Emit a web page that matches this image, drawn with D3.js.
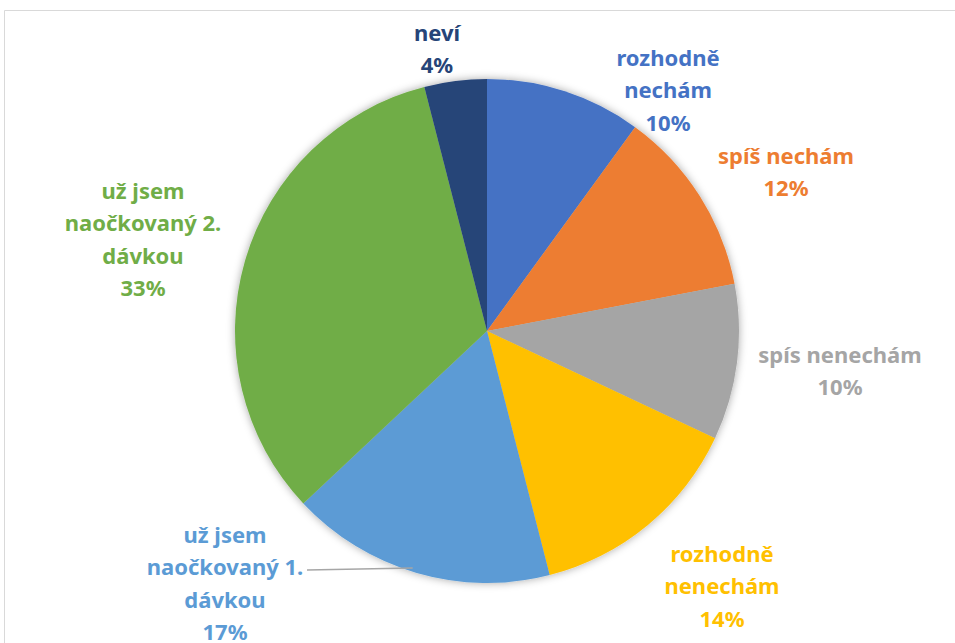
<!DOCTYPE html>
<html>
<head>
<meta charset="utf-8">
<script src="https://cdn.jsdelivr.net/npm/d3@7"></script>
<style>
  html, body { margin: 0; padding: 0; background: #fff; }
  svg { display: block; }
</style>
</head>
<body>
<div id="chart"></div>
<script>
const categories = ['rozhodně nechám', 'spíš nechám', 'spís nenechám', 'rozhodně nenechám', 'už jsem naočkovaný 1. dávkou', 'už jsem naočkovaný 2. dávkou', 'neví'];
const values = [10, 12, 10, 14, 17, 33, 4]; // percent
const colors = ['#4472C4', '#ED7D31', '#A5A5A5', '#FFC000', '#5B9BD5', '#70AD47', '#264478'];
// label lines, as wrapped in the picture
const labelLines = [
  ['rozhodně', 'nechám'],
  ['spíš nechám'],
  ['spís nenechám'],
  ['rozhodně', 'nenechám'],
  ['už jsem', 'naočkovaný 1.', 'dávkou'],
  ['už jsem', 'naočkovaný 2.', 'dávkou'],
  ['neví']
];

const width = 955, height = 643;
const cx = 487, cy = 331, radius = 252;
const lineH = 32.3;
// label anchor (centre x, first line y) for each slice
const labelPos = [[668, 57], [786, 155], [840, 354], [722, 553], [225, 534], [143, 190], [437, 32]];

const svg = d3.select('#chart').append('svg')
  .attr('width', width).attr('height', height);

// frame
svg.append('path')
  .attr('d', `M4.5,${height} V10.5 H${width}`)
  .attr('fill', 'none').attr('stroke', '#d9d9d9').attr('stroke-width', 1);

const defs = svg.append('defs');
const f = defs.append('filter').attr('id', 'shadow')
  .attr('x', '-10%').attr('y', '-10%').attr('width', '120%').attr('height', '120%');
f.append('feDropShadow').attr('dx', 0).attr('dy', 0).attr('stdDeviation', 4)
  .attr('flood-color', '#000').attr('flood-opacity', 0.35);

const pie = d3.pie().sort(null).value(d => d);
const arcs = pie(values);
const arc = d3.arc().innerRadius(0).outerRadius(radius);

const g = svg.append('g').attr('transform', `translate(${cx},${cy})`);
g.append('g').attr('filter', 'url(#shadow)')
  .selectAll('path').data(arcs).enter().append('path')
  .attr('d', arc)
  .attr('fill', (d, i) => colors[i]);

// leader line for the 1st dose label
const a4 = arcs[4];
const mid = (a4.startAngle + a4.endAngle) / 2;
const edge = [cx + Math.sin(mid) * radius, cy - Math.cos(mid) * radius];
svg.append('polyline')
  .attr('points', `307,570 ${edge[0] - 4},${edge[1] - 5}`)
  .attr('fill', 'none').attr('stroke', '#a6a6a6').attr('stroke-width', 1.3);

// labels
const fmt = d3.format('.0%');
const lab = svg.append('g')
  .attr('font-family', '"Noto Sans", "Open Sans", sans-serif')
  .attr('font-weight', 'bold')
  .attr('font-size', 22)
  .attr('text-anchor', 'middle');

categories.forEach((c, i) => {
  const lines = labelLines[i].concat([fmt(values[i] / 100)]);
  const t = lab.append('text')
    .attr('fill', colors[i])
    .attr('dominant-baseline', 'central');
  lines.forEach((l, j) => {
    t.append('tspan')
      .attr('x', labelPos[i][0])
      .attr('y', labelPos[i][1] + j * lineH)
      .text(l);
  });
});
</script>
</body>
</html>
